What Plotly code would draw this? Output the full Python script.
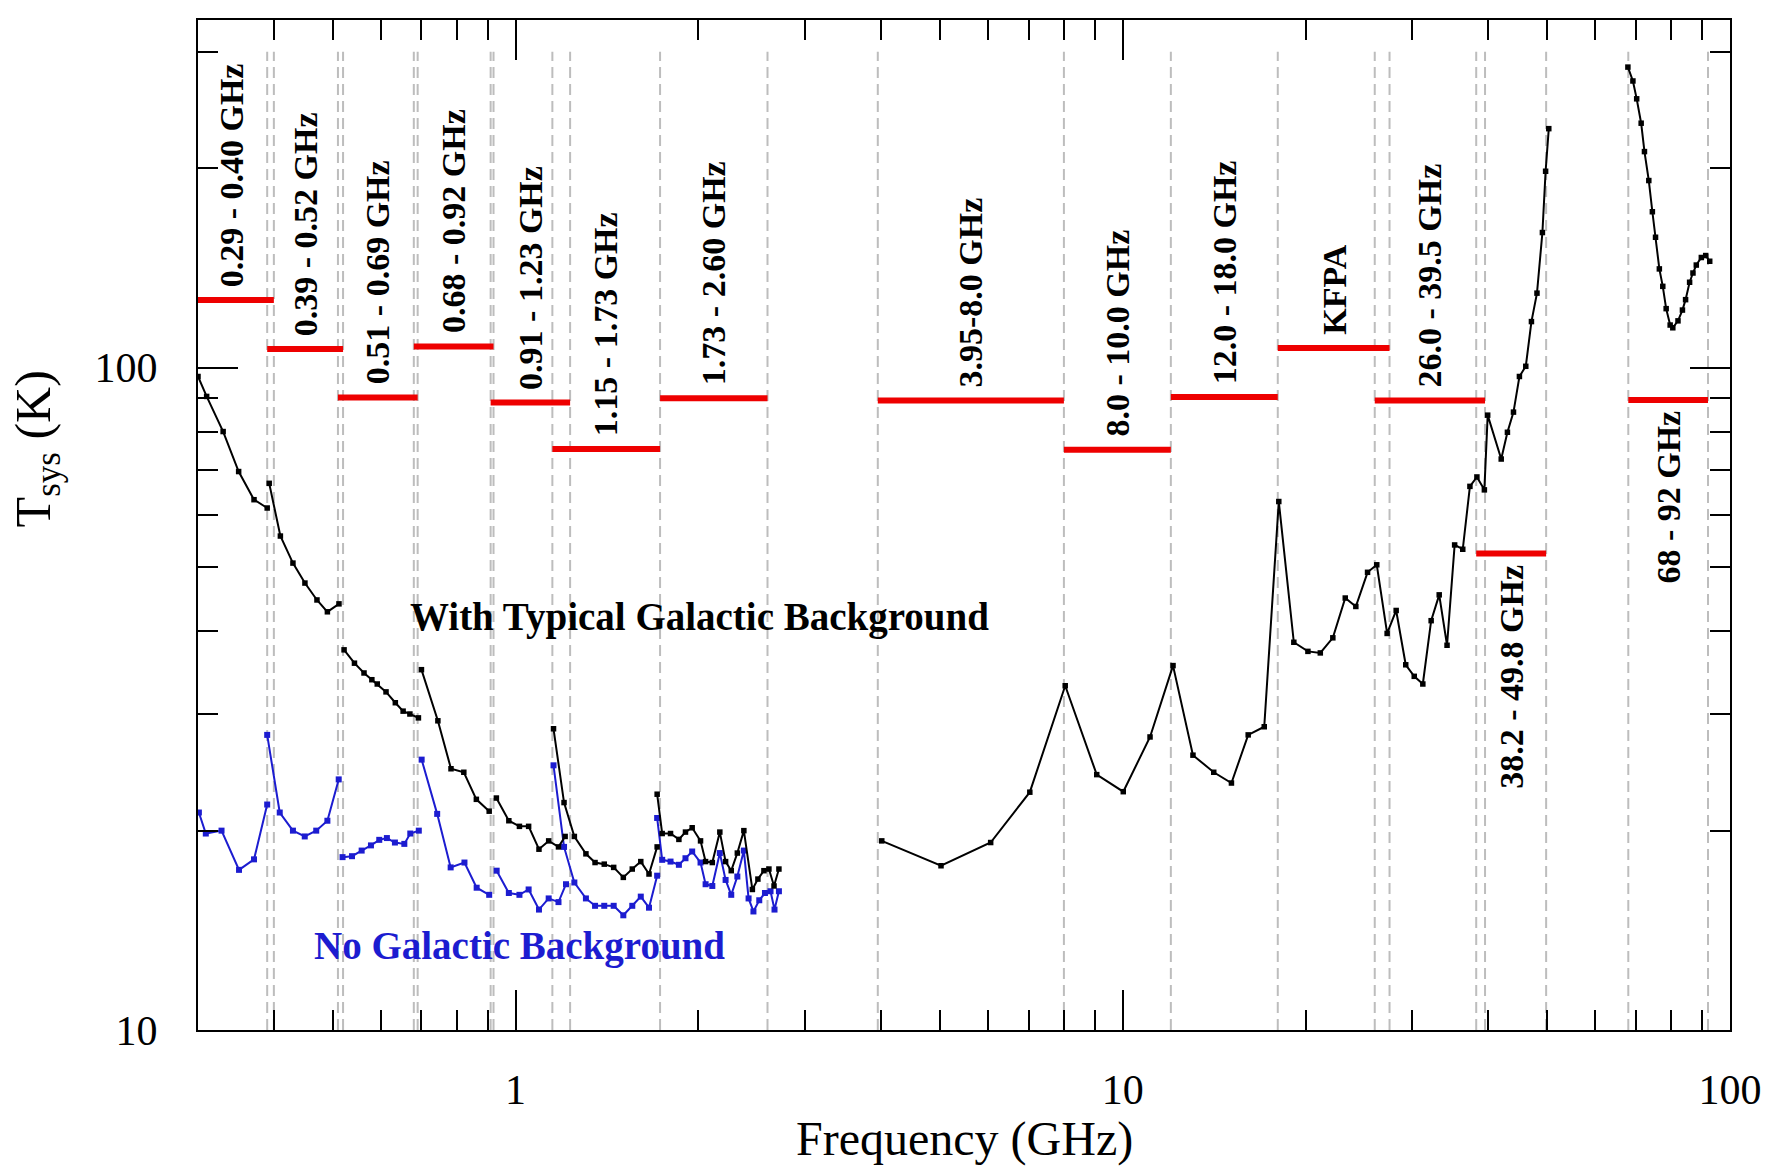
import math
import plotly.graph_objects as go

# ---------------- data ----------------
band_lo = [0.29, 0.39, 0.51, 0.68, 0.91, 1.15, 1.73, 3.95, 8.0, 12.0, 18.0, 26.0, 38.2, 68.0]
band_hi = [0.40, 0.52, 0.69, 0.92, 1.23, 1.73, 2.60, 8.0, 12.0, 18.0, 27.5, 39.5, 49.8, 92.0]
band_tsys = [126.6, 106.7, 90.2, 107.7, 88.6, 75.4, 89.9, 89.2, 75.2, 90.3, 107.1, 89.2, 52.4, 89.4]
band_labels = ["0.29 - 0.40 GHz", "0.39 - 0.52 GHz", "0.51 - 0.69 GHz", "0.68 - 0.92 GHz",
               "0.91 - 1.23 GHz", "1.15 - 1.73 GHz", "1.73 - 2.60 GHz", "3.95-8.0 GHz",
               "8.0 - 10.0 GHz", "12.0 - 18.0 GHz", "KFPA", "26.0 - 39.5 GHz",
               "38.2 - 49.8 GHz", "68 - 92 GHz"]
labels_below = ["38.2 - 49.8 GHz", "68 - 92 GHz"]

# With typical galactic background (None separates receiver segments)
gal_freq = [0.300, 0.310, 0.330, 0.350, 0.371, 0.390, None,
            0.393, 0.410, 0.430, 0.450, 0.471, 0.490, 0.512, None,
            0.522, 0.543, 0.563, 0.580, 0.592, 0.612, 0.634, 0.653, 0.670, 0.692, None,
            0.700, 0.745, 0.783, 0.822, 0.862, 0.905, None,
            0.930, 0.975, 1.015, 1.051, 1.093, 1.134, 1.177, 1.207, None,
            1.155, 1.202, 1.250, 1.306, 1.352, 1.400, 1.451, 1.505, 1.557, 1.608, 1.659, 1.711, None,
            1.711, 1.744, 1.800, 1.858, 1.905, 1.954, 2.017, 2.056, 2.109, 2.170, 2.218, 2.266,
            2.319, 2.377, 2.455, 2.507, 2.565, 2.614, 2.665, 2.715, None,
            4.01, 5.02, 6.06, 7.03, 8.04, 9.06, 10.02, 11.09, 12.1, 13.05, 14.12, 15.1, 16.09,
            17.1, 18.07, 19.13, 20.18, 21.15, 22.18, 23.25, 24.2, 25.3, 26.2, 27.25, 28.2,
            29.24, 30.2, 31.2, 32.2, 33.2, 34.2, 35.2, 36.3, 37.3, 38.3, 39.4,
            39.9, 42.0, 43.0, 44.0, 45.0, 46.1, 47.1, 48.1, 49.1, 49.7, 50.3, None,
            67.9, 69.2, 70.2, 71.4, 72.3, 73.5, 74.5, 75.4, 76.5, 77.5, 78.5, 79.7, 80.5,
            82.1, 83.5, 84.5, 85.8, 86.9, 88.0, 89.7, 91.2, 92.6]
gal_tsys = [97.0, 90.5, 80.1, 69.7, 63.2, 61.4, None,
            66.9, 55.7, 50.7, 47.3, 44.6, 42.8, 44.0, None,
            37.5, 35.8, 34.6, 33.8, 33.3, 32.4, 31.2, 30.3, 30.0, 29.6, None,
            35.0, 29.3, 24.8, 24.5, 22.3, 21.4, None,
            22.4, 20.7, 20.3, 20.3, 18.75, 19.3, 18.9, 19.6, None,
            28.5, 22.05, 19.6, 18.45, 17.9, 17.8, 17.6, 17.0, 17.5, 17.96, 17.2, 18.9, None,
            22.7, 19.8, 19.8, 19.4, 19.9, 20.2, 19.3, 17.96, 17.9, 19.9, 17.96, 17.4,
            18.5, 20.0, 16.3, 16.9, 17.4, 17.5, 16.5, 17.5, None,
            19.3, 17.7, 19.19, 22.86, 33.1, 24.3, 22.9, 27.7, 35.5, 26.0, 24.5, 23.6, 27.9,
            28.7, 62.8, 38.5, 37.3, 37.1, 39.1, 44.9, 43.6, 49.1, 50.4, 39.7, 43.0,
            35.6, 34.2, 33.3, 41.5, 45.4, 38.1, 54.0, 53.2, 66.2, 68.4, 65.4,
            84.8, 72.8, 79.9, 85.7, 97.0, 100.5, 117.4, 129.6, 160.0, 198.0, 229.6, None,
            284.4, 271.0, 254.7, 234.0, 212.0, 191.7, 172.0, 157.4, 141.0, 132.7, 122.8, 116.0, 114.9,
            117.7, 122.2, 126.7, 134.6, 139.0, 142.9, 146.7, 147.7, 144.8]

# No galactic background
nogal_freq = [0.301, 0.309, 0.328, 0.3505, 0.371, 0.390, None,
              0.390, 0.409, 0.430, 0.4497, 0.4697, 0.490, 0.5115, None,
              0.519, 0.538, 0.558, 0.578, 0.5965, 0.614, 0.633, 0.656, 0.671, 0.693, None,
              0.7005, 0.743, 0.782, 0.824, 0.863, 0.905, None,
              0.931, 0.975, 1.015, 1.051, 1.093, 1.134, 1.177, 1.211, None,
              1.155, 1.202, 1.250, 1.306, 1.352, 1.400, 1.451, 1.505, 1.557, 1.608, 1.659, 1.711, None,
              1.711, 1.744, 1.800, 1.858, 1.905, 1.954, 2.017, 2.056, 2.109, 2.170, 2.218, 2.266,
              2.319, 2.377, 2.420, 2.465, 2.520, 2.575, 2.630, 2.670, 2.715]
nogal_tsys = [21.3, 19.8, 20.0, 17.45, 18.1, 21.9, None,
              27.9, 21.3, 20.0, 19.6, 20.0, 20.7, 23.9, None,
              18.24, 18.3, 18.66, 19.0, 19.37, 19.49, 19.19, 19.1, 19.8, 20.0, None,
              25.6, 21.2, 17.6, 17.9, 16.4, 16.0, None,
              17.4, 16.1, 16.0, 16.3, 15.2, 15.8, 15.6, 16.6, None,
              25.1, 18.9, 16.7, 15.8, 15.4, 15.4, 15.4, 14.9, 15.4, 15.9, 15.3, 17.1, None,
              20.9, 18.07, 17.96, 17.76, 18.17, 18.6, 17.9, 16.6, 16.5, 18.5, 16.85, 16.0,
              17.05, 18.66, 15.8, 15.1, 15.7, 16.1, 16.2, 15.2, 16.2]

x_major = [1, 10, 100]
x_minor = [0.4, 0.5, 0.6, 0.7, 0.8, 0.9, 2, 3, 4, 5, 6, 7, 8, 9,
           20, 30, 40, 50, 60, 70, 80, 90]
y_major = [10, 100]
y_minor = [20, 30, 40, 50, 60, 70, 80, 90, 200, 300]

# ---------------- figure ----------------
XMIN, XMAX = 0.3, 100.0
YMIN, YMAX = 10.0, 335.0
SERIF = "Liberation Serif, Times New Roman, serif"
BLUE = "#1c1cd0"

fig = go.Figure()

# dashed band-edge lines
edges = sorted(set(e for e in band_lo + band_hi if XMIN < e < XMAX))
vx, vy = [], []
for e in edges:
    vx += [e, e, None]
    vy += [10, 300, None]
fig.add_trace(go.Scatter(x=vx, y=vy, mode="lines", hoverinfo="skip",
                         line=dict(color="#bdbdbd", width=2, dash="11px,6px"),
                         showlegend=False))

# red band bars
bx, by = [], []
for lo, hi, t in zip(band_lo, band_hi, band_tsys):
    bx += [max(lo, XMIN), hi, None]
    by += [t, t, None]
fig.add_trace(go.Scatter(x=bx, y=by, mode="lines", line=dict(color="#ee0000", width=6),
                         showlegend=False))

# curves
fig.add_trace(go.Scatter(x=nogal_freq, y=nogal_tsys, mode="lines+markers",
                         line=dict(color=BLUE, width=2),
                         marker=dict(symbol="square", size=6, color=BLUE),
                         connectgaps=False, showlegend=False))
fig.add_trace(go.Scatter(x=gal_freq, y=gal_tsys, mode="lines+markers",
                         line=dict(color="black", width=2),
                         marker=dict(symbol="square", size=5.5, color="black"),
                         connectgaps=False, showlegend=False))

# band labels
for lo, hi, t, lab in zip(band_lo, band_hi, band_tsys, band_labels):
    below = lab in labels_below
    fig.add_annotation(x=math.log10(math.sqrt(lo * hi)), y=math.log10(t),
                       xref="x", yref="y", text="<b>%s</b>" % lab, showarrow=False,
                       textangle=-90, xanchor="center",
                       yanchor="top" if below else "bottom",
                       yshift=-9 if below else 11,
                       font=dict(family=SERIF, size=34, color="black"))

fig.add_annotation(x=math.log10(2.01), y=math.log10(42.1), xref="x", yref="y",
                   text="<b>With Typical Galactic Background</b>", showarrow=False,
                   font=dict(family=SERIF, size=39, color="black"))
fig.add_annotation(x=math.log10(1.017), y=math.log10(13.4), xref="x", yref="y",
                   text="<b>No Galactic Background</b>", showarrow=False,
                   font=dict(family=SERIF, size=39, color=BLUE))

# axis titles
fig.add_annotation(x=-0.105, y=0.575, xref="paper", yref="paper",
                   text="T<sub>sys</sub> (K)", textangle=-90, showarrow=False,
                   xanchor="center", yanchor="middle",
                   font=dict(family=SERIF, size=50, color="black"))
fig.add_annotation(x=0.5, y=-0.1366, xref="paper", yref="paper",
                   text="Frequency (GHz)", showarrow=False,
                   xanchor="center", yanchor="bottom",
                   font=dict(family=SERIF, size=48, color="black"))

axis_common = dict(showgrid=False, zeroline=False, showline=True, linecolor="black",
                   linewidth=2, mirror="ticks", ticks="inside", tickcolor="black",
                   tickwidth=2, ticklen=40,
                   tickfont=dict(family=SERIF, size=42, color="black"))

fig.update_xaxes(type="log", range=[math.log10(XMIN), math.log10(XMAX)],
                 tickvals=x_major, ticktext=[str(v) for v in x_major],
                 ticklabelstandoff=22,
                 minor=dict(ticks="inside", tickvals=x_minor, ticklen=20,
                            tickwidth=2, tickcolor="black", showgrid=False),
                 **axis_common)
fig.update_yaxes(type="log", range=[math.log10(YMIN), math.log10(YMAX)],
                 tickvals=y_major, ticktext=[str(v) for v in y_major],
                 ticklabelstandoff=30,
                 minor=dict(ticks="inside", tickvals=y_minor, ticklen=20,
                            tickwidth=2, tickcolor="black", showgrid=False),
                 **axis_common)

fig.update_layout(width=1775, height=1170, autosize=False,
                  margin=dict(l=198, r=45, t=20, b=140, pad=0),
                  paper_bgcolor="white", plot_bgcolor="white",
                  showlegend=False)

fig.write_html("out.html", config={"displayModeBar": False},
               post_script="document.body.style.margin='0px';document.body.style.overflow='hidden';")
